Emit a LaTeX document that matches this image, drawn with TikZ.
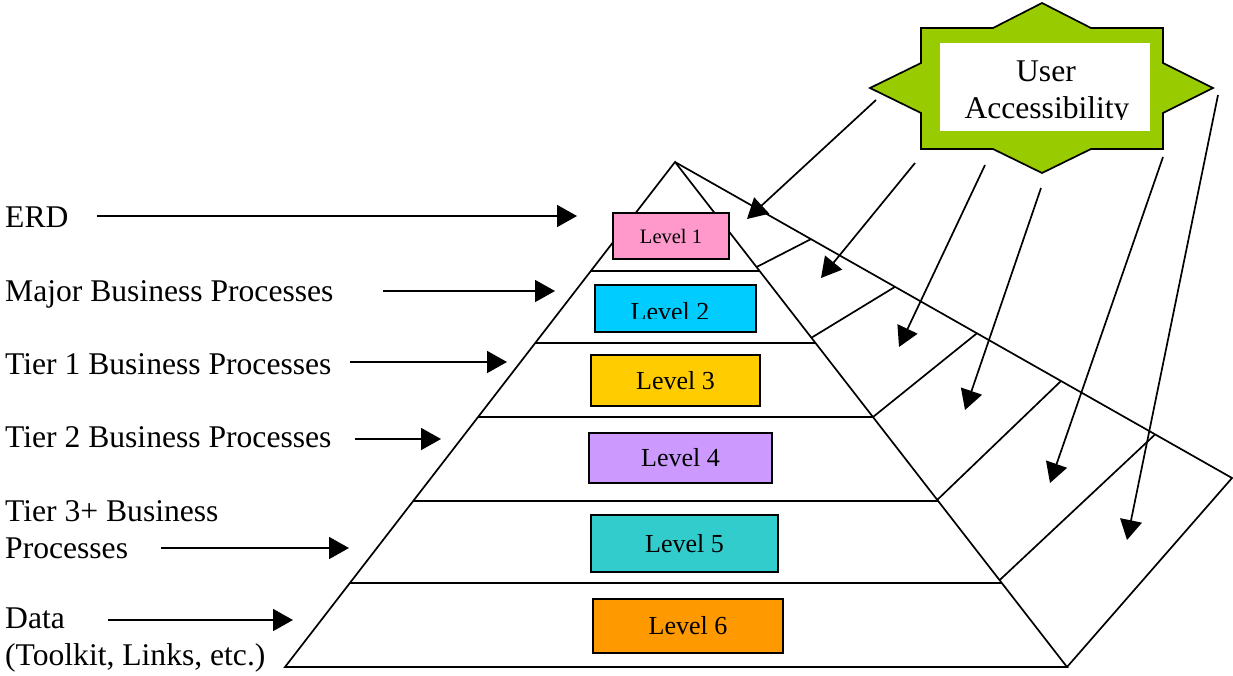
\documentclass[tikz,border=0pt]{standalone}
\usepackage{fontspec}
\setmainfont{Liberation Serif}
\usetikzlibrary{arrows.meta,calc}
\definecolor{lvpink}{HTML}{FF99CC}
\definecolor{lvcyan}{HTML}{00CCFF}
\definecolor{lvgold}{HTML}{FFCC00}
\definecolor{lvlilac}{HTML}{CC99FF}
\definecolor{lvteal}{HTML}{33CCCC}
\definecolor{lvorange}{HTML}{FF9900}
\definecolor{stargreen}{HTML}{99CC00}
\tikzset{
  lbl/.style   ={anchor=base west, inner sep=0pt, align=left,
                 font=\fontsize{31.6}{37}\selectfont},
  lvl/.style   ={rectangle, draw=black, line width=1.7pt, inner sep=0pt,
                 font=\fontsize{26}{30}\selectfont},
  edge/.style  ={draw=black, line width=1.7pt},
  arr/.style   ={-{Triangle[length=20pt,width=22pt]}, line width=1.7pt},
}

\begin{document}
\begin{tikzpicture}[x=1pt, y=-1pt]
  \useasboundingbox (0,0) rectangle (1233,675);

  % pyramid corners
  \coordinate (apex) at (675,162);
  \coordinate (bl) at (285,667);
  \coordinate (br) at (1067,667);
  \coordinate (back) at (1232,478);

  % pyramid outline + side face
  \draw[edge] (bl) -- (apex) -- (br) -- cycle;
  \draw[edge] (apex) -- (back) -- (br);

  % level dividers
  \foreach \t in {0.2158,0.3584,0.5050,0.6713,0.8337}
    \draw[edge] ($(apex)!\t!(bl)$) -- ($(apex)!\t!(br)$);

  % side face dividers
  \foreach \t/\s in {0.208/0.244,0.348/0.395,0.505/0.542,0.669/0.693,0.828/0.862}
    \draw[edge] ($(apex)!\t!(br)$) -- ($(apex)!\s!(back)$);

  % levels
  \node[lvl, fill=lvpink, minimum width=116pt, minimum height=46pt,
        font=\fontsize{20.5}{24}\selectfont] (lv1) at (671,236) {Level 1};
  \node[lvl, fill=lvcyan, minimum width=161pt, minimum height=47pt] (lv2) at (675.5,308.5) {};
  \begin{scope}
    \clip (lv2.north west) rectangle (lv2.east |- 0,318.3);
    \node[lvl, draw=none, anchor=base] (lv2txt) at (670,320) {Level 2};
  \end{scope}
  \node[lvl, fill=lvgold, minimum width=169pt, minimum height=51pt] (lv3) at (675.5,380.5) {Level 3};
  \node[lvl, fill=lvlilac, minimum width=183pt, minimum height=50pt] (lv4) at (680.5,458) {Level 4};
  \node[lvl, fill=lvteal, minimum width=187pt, minimum height=57pt] (lv5) at (684.5,543.5) {Level 5};
  \node[lvl, fill=lvorange, minimum width=190pt, minimum height=54pt] (lv6) at (688,626) {Level 6};

  % user accessibility star
  \draw[edge, fill=stargreen]
    (1042,3) -- (1091,28) -- (1163,28) -- (1163,63) -- (1213,88) -- (1163,113)
    -- (1163,149) -- (1091,149) -- (1042,173) -- (993,149) -- (921,149)
    -- (921,113) -- (870,88) -- (921,63) -- (921,28) -- (993,28) -- cycle;
  \node[fill=white, inner sep=0pt, minimum width=210pt, minimum height=88pt] (uabox) at (1045,87) {};
  \begin{scope}
    \clip (uabox.north west) rectangle (1128,119);
    \node[lbl, anchor=base] (ua1) at (1046,81) {User};
    \node[lbl, anchor=base] (ua2) at (1047,118) {Accessibility};
  \end{scope}

  % left labels
  \node[lbl] (erd) at (5,227) {ERD};
  \node[lbl] (major) at (5,301) {Major Business Processes};
  \node[lbl] (tier1) at (5,374) {Tier 1 Business Processes};
  \node[lbl] (tier2) at (5,447) {Tier 2 Business Processes};
  \node[lbl] (tier3) at (5,558) {Tier 3+ Business\\Processes};
  \node[lbl] (data) at (5,665) {Data\\(Toolkit, Links, etc.)};

  % label arrows
  \coordinate (erdA) at (97,216);    \coordinate (erdB) at (577,216);
  \coordinate (majA) at (383,291);   \coordinate (majB) at (555,291);
  \coordinate (t1A) at (350,362);    \coordinate (t1B) at (507,362);
  \coordinate (t2A) at (355,439);    \coordinate (t2B) at (441,439);
  \coordinate (t3A) at (161,548);    \coordinate (t3B) at (349,548);
  \coordinate (datA) at (108,620);   \coordinate (datB) at (293,620);
  \draw[arr] (erdA) -- (erdB);
  \draw[arr] (majA) -- (majB);
  \draw[arr] (t1A) -- (t1B);
  \draw[arr] (t2A) -- (t2B);
  \draw[arr] (t3A) -- (t3B);
  \draw[arr] (datA) -- (datB);

  % accessibility arrows
  \foreach \i/\sx/\sy/\ex/\ey in {1/876/100/747/219, 2/915/163/821/278, 3/985/165/899/347,
                                  4/1041/188/965/410, 5/1163/157/1050/483, 6/1218/95/1127/540} {
    \coordinate (uaS\i) at (\sx,\sy);
    \coordinate (uaT\i) at (\ex,\ey);
    \draw[arr] (uaS\i) -- (uaT\i);
  }
\end{tikzpicture}
\end{document}
